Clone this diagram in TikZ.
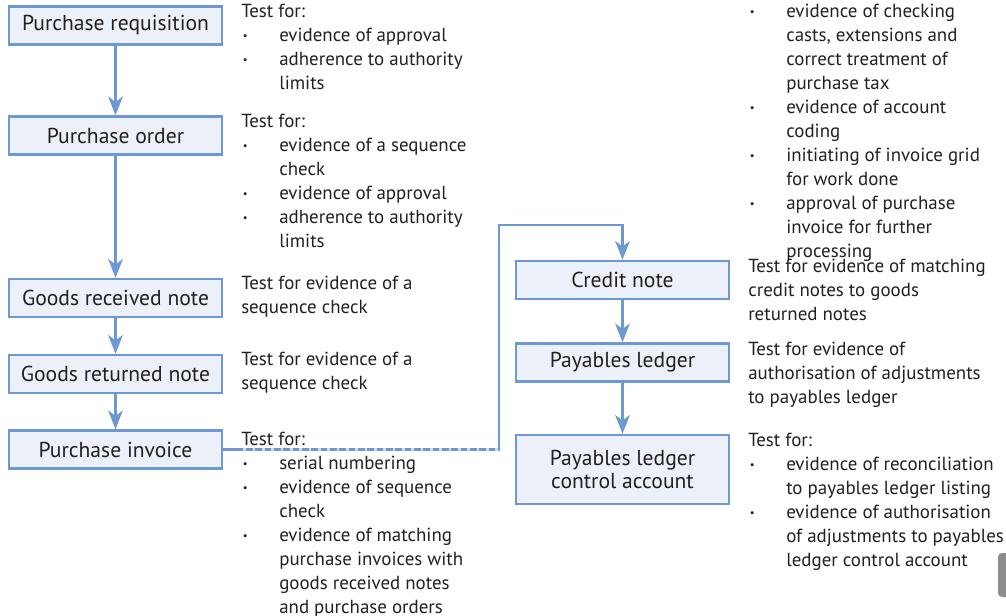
\documentclass[tikz,border=0pt]{standalone}
\usepackage{fontspec}
\setmainfont{PT Sans}
\usetikzlibrary{arrows.meta}
\definecolor{boxline}{RGB}{110,152,212}
\definecolor{boxfill}{RGB}{236,241,249}
\definecolor{inkgray}{RGB}{35,31,32}
\newcommand{\bul}{\makebox[28.5pt][l]{\hspace{1.2pt}\raisebox{1.6pt}{\fontsize{8}{8}\selectfont •}}}
\newcommand{\ind}{\hspace*{28.5pt}}

\tikzset{
  docbox/.style={draw=boxline, fill=boxfill, line width=1.9pt, minimum width=159.75pt, minimum height=28.5pt, inner sep=0pt, align=center, text=inkgray, font=\fontsize{16.2}{17.5}\selectfont},
  flow/.style={draw=boxline, line width=1.7pt, -{Stealth[length=14pt, width=11pt, inset=4pt]}},
  gapline/.style={draw=boxline!35, line width=1.7pt, dash pattern=on 2pt off 5pt},
  testnote/.style={anchor=north west, align=left, inner sep=0pt, text=inkgray, font=\fontsize{14.2}{18}\selectfont}
}

\begin{document}
\begin{tikzpicture}[x=0.75pt, y=-0.75pt]
	\useasboundingbox (0,0) rectangle (1006,616);

	% documents
	\node[docbox] (req) at (115.5,25.5) {Purchase requisition};
	\node[docbox] (ord) at (115.5,135.5) {Purchase order};
	\node[docbox] (grn) at (115.5,298) {Goods received note};
	\node[docbox] (gret) at (115.5,374) {Goods returned note};
	\node[docbox] (pinv) at (115.5,449.5) {Purchase invoice};
	\node[docbox] (cred) at (622.5,280) {Credit note};
	\node[docbox] (pled) at (622.5,362.5) {Payables ledger};
	\node[docbox, minimum height=51.75pt] (pctl) at (622.5,469.5) {Payables ledger\\control account};

	% flow
	\draw[flow] (req) -- (ord);
	\draw[flow] (ord) -- (grn);
	\draw[flow] (grn) -- (gret);
	\draw[flow] (gret) -- (pinv);
	\coordinate (turn) at (499,225);
	\draw[flow] (pinv.east) -| (turn) -| (cred.north);
	\draw[gapline] ([xshift=15pt]pinv.east) -- (pinv.east -| turn);
	\draw[flow] (cred) -- (pled);
	\draw[flow] (pled) -- (pctl);

	% tests
	\node[testnote] (treq) at (241,4) {Test for:\\
		\bul evidence of approval\\
		\bul adherence to authority\\
		\ind limits};
	\node[testnote] (tord) at (241,114) {Test for:\\
		\bul evidence of a sequence\\
		\ind check\\
		\bul evidence of approval\\
		\bul adherence to authority\\
		\ind limits};
	\node[testnote] (tgrn) at (241,276) {Test for evidence of a\\sequence check};
	\node[testnote] (tgret) at (241,352) {Test for evidence of a\\sequence check};
	\node[testnote] (tpinv) at (241,432) {Test for:\\
		\bul serial numbering\\
		\bul evidence of sequence\\
		\ind check\\
		\bul evidence of matching\\
		\ind purchase invoices with\\
		\ind goods received notes\\
		\ind and purchase orders};
	\node[testnote] (tmore) at (748,4) {\bul evidence of checking\\
		\ind casts, extensions and\\
		\ind correct treatment of\\
		\ind purchase tax\\
		\bul evidence of account\\
		\ind coding\\
		\bul initiating of invoice grid\\
		\ind for work done\\
		\bul approval of purchase\\
		\ind invoice for further\\
		\ind processing};
	\node[testnote] (tcred) at (748,259) {Test for evidence of matching\\credit notes to goods\\returned notes};
	\node[testnote] (tpled) at (748,342) {Test for evidence of\\authorisation of adjustments\\to payables ledger};
	\node[testnote] (tpctl) at (748,433) {Test for:\\
		\bul evidence of reconciliation\\
		\ind to payables ledger listing\\
		\bul evidence of authorisation\\
		\ind of adjustments to payables\\
		\ind ledger control account};

	% page tab
	\fill[black!45, rounded corners=3pt] (998,553) rectangle (1010,597);
\end{tikzpicture}
\end{document}
